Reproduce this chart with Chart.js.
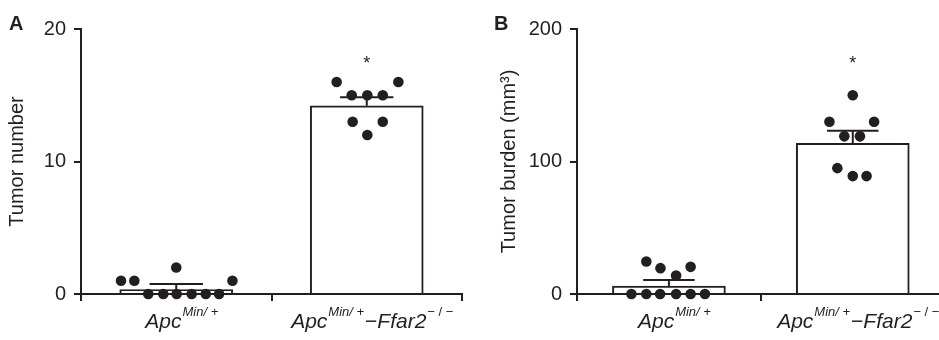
<!DOCTYPE html>
<html>
<head>
<meta charset="utf-8">
<script src="https://cdn.jsdelivr.net/npm/chart.js@4.4.1/dist/chart.umd.min.js"></script>
<style>
  html, body { margin: 0; padding: 0; background: #fff; overflow: hidden; width: 939px; height: 340px; }
  .panel { position: absolute; top: 0; height: 340px; }
  #wrapA { left: 0; width: 470px; }
  #wrapB { left: 470px; width: 480px; }
</style>
</head>
<body>
<div class="panel" id="wrapA"><canvas id="chartA" width="470" height="340"></canvas></div>
<div class="panel" id="wrapB"><canvas id="chartB" width="480" height="340"></canvas></div>
<script>
// category labels, split into [text, style] parts (i = italic, s = superscript)
const catLabels = [
  [['Apc', 'i'], ['Min/ +', 'si']],
  [['Apc', 'i'], ['Min/ +', 'si'], ['\u2212', ''], ['Ffar2', 'i'], ['\u2212 / \u2212', 's']]
];

// panel A: tumor number
const meanA = [0.33, 14.2];
const semA = [0.42, 0.65];
const ctrlA = [1, 1, 2, 1, 0, 0, 0, 0, 0, 0];
const ctrlAjit = [-0.29, -0.22, 0.0, 0.295, -0.147, -0.068, 0.002, 0.081, 0.155, 0.225];
const koA = [16, 16, 15, 15, 15, 13, 13, 12];
const koAjit = [-0.158, 0.166, -0.079, 0.003, 0.084, -0.074, 0.084, 0.003];
const ticksA = [0, 10, 20];

// panel B: tumor burden
const meanB = [6, 113.7];
const semB = [4.6, 9.6];
const ctrlB = [24.5, 19.5, 14, 20.5, 0, 0, 0, 0, 0, 0];
const ctrlBjit = [-0.123, -0.046, 0.039, 0.118, -0.204, -0.123, -0.048, 0.039, 0.118, 0.196];
const koB = [150, 130, 130, 119, 119, 95, 89, 89];
const koBjit = [0, -0.127, 0.116, -0.046, 0.039, -0.084, 0, 0.075];
const ticksB = [0, 100, 200];

const ink = '#231f20';
const fam = '"Liberation Sans", Arial, Helvetica, sans-serif';

const extras = {
  id: 'extras',
  afterDatasetsDraw(chart, args, o) {
    const ctx = chart.ctx, xs = chart.scales.x, ys = chart.scales.y;
    ctx.save();
    ctx.strokeStyle = ink;
    ctx.lineWidth = 2;
    o.means.forEach((m, i) => {
      const x = xs.getPixelForValue(i);
      const y0 = ys.getPixelForValue(m);
      const y1 = ys.getPixelForValue(m + o.errs[i]);
      ctx.beginPath();
      ctx.moveTo(x, y0); ctx.lineTo(x, y1);
      ctx.moveTo(xs.getPixelForValue(i - 0.14), y1);
      ctx.lineTo(xs.getPixelForValue(i + 0.14), y1);
      ctx.stroke();
    });
    // significance star
    ctx.fillStyle = ink;
    ctx.font = '18px ' + fam;
    ctx.textAlign = 'center';
    ctx.textBaseline = 'alphabetic';
    ctx.fillText('*', xs.getPixelForValue(1), ys.getPixelForValue(o.star));
    ctx.restore();
  },
  afterDraw(chart, args, o) {
    const ctx = chart.ctx, xs = chart.scales.x;
    const base = chart.chartArea.bottom + 34;
    ctx.save();
    ctx.fillStyle = ink;
    ctx.textBaseline = 'alphabetic';
    ctx.textAlign = 'left';
    const fontOf = st => (st.includes('i') ? 'italic ' : '') + (st.includes('s') ? '13px ' : '21px ') + fam;
    catLabels.forEach((parts, i) => {
      let w = 0;
      parts.forEach(([t, st]) => { ctx.font = fontOf(st); w += ctx.measureText(t).width + (st.includes('s') ? 2 : 0); });
      let x = xs.getPixelForValue(i) - w / 2 + 6;
      parts.forEach(([t, st]) => {
        ctx.font = fontOf(st);
        const sup = st.includes('s');
        ctx.fillText(t, x + (sup ? 1 : 0), sup ? base - 12 : base);
        x += ctx.measureText(t).width + (sup ? 2 : 0);
      });
    });
    // panel letter
    ctx.font = 'bold 20px ' + fam;
    ctx.fillText(o.tag, o.tagX, 30);
    ctx.restore();
  }
};

function makeChart(id, cfg) {
  const pts = (vals, jit, c) => vals.map((v, k) => ({ x: c + jit[k], y: v }));
  return new Chart(document.getElementById(id), {
    type: 'bar',
    data: {
      datasets: [
        {
          type: 'scatter',
          order: 0,
          data: pts(cfg.ctrl, cfg.ctrlJit, 0).concat(pts(cfg.ko, cfg.koJit, 1)),
          pointRadius: 5.3,
          pointBackgroundColor: ink,
          pointBorderWidth: 0,
          clip: false
        },
        {
          type: 'bar',
          order: 1,
          data: cfg.means.map((m, i) => ({ x: i, y: m })),
          backgroundColor: '#fff',
          borderColor: ink,
          borderWidth: 2,
          barThickness: 113
        }
      ]
    },
    options: {
      responsive: false,
      animation: false,
      events: [],
      layout: { padding: { top: 29, right: cfg.padRight, bottom: 0, left: 0 } },
      plugins: {
        legend: { display: false },
        tooltip: { enabled: false },
        extras: { means: cfg.means, errs: cfg.errs, star: cfg.star, tag: cfg.tag, tagX: cfg.tagX }
      },
      scales: {
        x: {
          type: 'linear',
          offset: false,
          min: -0.5,
          max: 1.5,
          afterBuildTicks: s => { s.ticks = [-0.5, 0.5, 1.5].map(v => ({ value: v })); },
          afterFit: s => { s.height = 46; },
          border: { color: ink, width: 2 },
          grid: { offset: false, drawOnChartArea: false, tickLength: 7, color: ink, lineWidth: 2 },
          ticks: { display: false }
        },
        y: {
          min: 0,
          max: cfg.ticks[cfg.ticks.length - 1],
          afterBuildTicks: s => { s.ticks = cfg.ticks.map(v => ({ value: v })); },
          afterFit: s => { s.width = cfg.yWidth; },
          border: { color: ink, width: 2 },
          grid: { drawOnChartArea: false, tickLength: 7, color: ink, lineWidth: 2 },
          ticks: { color: ink, font: { family: fam, size: 20 }, padding: 8 },
          title: {
            display: true,
            text: cfg.title,
            color: ink,
            font: { family: fam, size: 20 },
            padding: { top: cfg.titlePad, bottom: 0 }
          }
        }
      }
    },
    plugins: [extras]
  });
}

makeChart('chartA', {
  means: meanA, errs: semA, ctrl: ctrlA, ctrlJit: ctrlAjit, ko: koA, koJit: koAjit,
  ticks: ticksA, title: 'Tumor number', star: 17.0, tag: 'A', tagX: 9,
  yWidth: 81, padRight: 8, titlePad: 5
});
makeChart('chartB', {
  means: meanB, errs: semB, ctrl: ctrlB, ctrlJit: ctrlBjit, ko: koB, koJit: koBjit,
  ticks: ticksB, title: 'Tumor burden (mm\u00b3)', star: 170, tag: 'B', tagX: 24,
  yWidth: 107, padRight: 3, titlePad: 27
});
</script>
</body>
</html>
